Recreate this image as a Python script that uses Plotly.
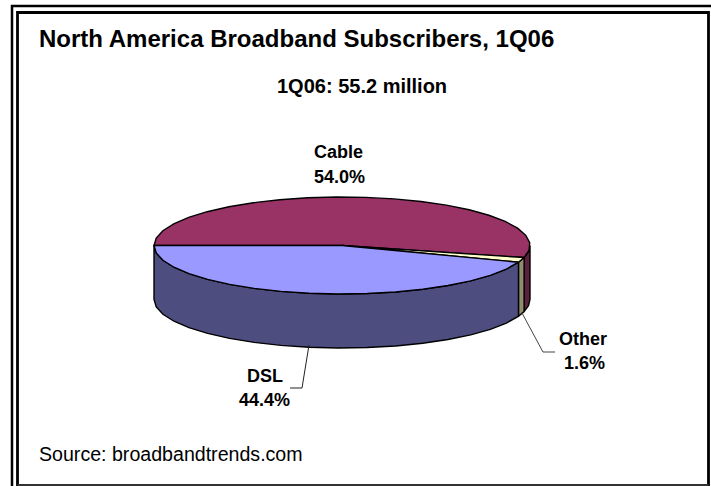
import numpy as np
import plotly.graph_objects as go

categories = ["Cable", "Other", "DSL"]
shares = [54.0, 1.6, 44.4]
top_colors = ["#993366", "#ffffcc", "#9999ff"]
wall_colors = ["#5c1f3d", "#8f8f70", "#4d4d80"]
title_text = "North America Broadband Subscribers, 1Q06"
subtitle_text = "1Q06: 55.2 million"
source_text = "Source: broadbandtrends.com"
FONT = "Liberation Sans, Arial, sans-serif"

W, H = 711, 486
cx, cy, rx, ry, depth = 342, 245.5, 188, 48.5, 54
STEP = 9.0

def arc(a0, a1):
    n = max(2, int(abs(a1 - a0) / STEP) + 2)
    t = np.radians(np.linspace(a0, a1, n))
    return cx + rx * np.cos(t), cy - ry * np.sin(t)

edges = 180 - 3.6 * np.concatenate([[0], np.cumsum(shares)])
fig = go.Figure()

def poly(x, y, color, name):
    fig.add_trace(go.Scatter(x=list(x), y=list(y), mode="lines", fill="toself",
                             fillcolor=color, name=name, hoverinfo="skip",
                             line=dict(color="black", width=1.4)))

# side walls (only the front half of the rim is visible)
for i, c in enumerate(categories):
    a0, a1 = min(edges[i], 0), min(edges[i + 1], 0)
    if a0 == a1:
        continue
    ax, ay = arc(a0, a1)
    poly(np.r_[ax, ax[::-1], ax[0]], np.r_[ay, ay[::-1] + depth, ay[0]], wall_colors[i], c + " wall")

# top faces
for i, c in enumerate(categories):
    ax, ay = arc(edges[i], edges[i + 1])
    poly(np.r_[cx, ax, cx], np.r_[cy, ay, cy], top_colors[i], c)

def line_path(pts, color, width):
    d = "M " + " L ".join(f"{x} {y}" for x, y in pts)
    return dict(type="path", path=d, xref="x", yref="y", line=dict(color=color, width=width))

shapes = [
    line_path([(12, 486), (12, 6), (711, 6)], "black", 2.5),
    line_path([(17.5, 486), (17.5, 12.5), (708.5, 12.5), (708.5, 486)], "black", 2.8),
    line_path([(17.5, 485), (708.5, 485)], "#333333", 2),
    line_path([(522, 313), (543, 352), (555, 352)], "#444444", 1),
    line_path([(309, 345), (302, 388), (290, 388)], "#222222", 1),
]

def label(x, y, text, size, bold=True, anchor="center"):
    t = f"<b>{text}</b>" if bold else text
    return dict(x=x, y=y, xref="x", yref="y", text=t, showarrow=False, xanchor=anchor, yanchor="middle",
                font=dict(family=FONT, size=size, color="black"))

annotations = [
    label(37, 38, title_text, 24, anchor="left"),
    label(362, 86, subtitle_text, 20),
    label(338, 152, categories[0], 18),
    label(339, 177, f"{shares[0]:.1f}%", 18),
    label(582.5, 339, categories[1], 18),
    label(584.5, 363, f"{shares[1]:.1f}%", 18),
    label(264.5, 376, categories[2], 18),
    label(264.5, 400, f"{shares[2]:.1f}%", 18),
    label(37, 454, source_text, 19.6, bold=False, anchor="left"),
]

fig.update_layout(
    width=W, height=H, margin=dict(l=0, r=0, t=0, b=0), autosize=False,
    paper_bgcolor="white", plot_bgcolor="white", showlegend=False,
    xaxis=dict(range=[0, W], visible=False, fixedrange=True),
    yaxis=dict(range=[H, 0], visible=False, fixedrange=True),
    shapes=shapes, annotations=annotations,
)
fig.write_html("out.html", config=dict(displayModeBar=False),
               post_script="document.body.style.margin='0';document.documentElement.style.overflow='hidden';")
